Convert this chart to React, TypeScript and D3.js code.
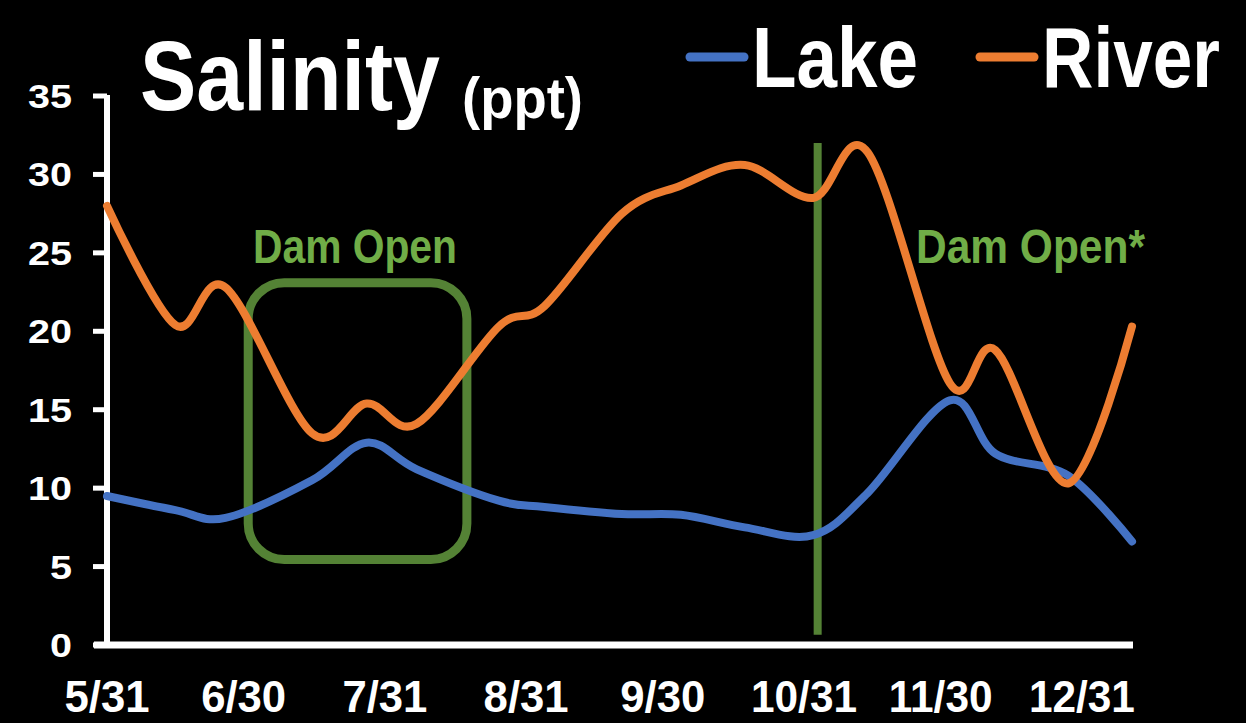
import React from "react";
import * as d3 from "d3";

const dates = [
  "2018-05-31", "2018-06-15", "2018-06-26", "2018-07-15", "2018-07-27", "2018-08-07",
  "2018-08-25", "2018-09-04", "2018-09-21", "2018-10-04", "2018-10-18", "2018-11-02",
  "2018-11-14", "2018-12-02", "2018-12-12", "2018-12-28", "2019-01-11",
];
const lake = [9.5, 8.6, 8.1, 10.5, 12.9, 11.2, 9.2, 8.8, 8.35, 8.3, 7.5, 7.0, 9.7, 15.6, 12.2, 10.8, 6.6];
const river = [28.0, 20.4, 22.8, 13.5, 15.4, 14.1, 20.3, 21.6, 27.5, 29.3, 30.6, 28.5, 31.4, 16.7, 18.8, 10.3, 20.3];
const xTickDates = ["2018-05-31", "2018-06-30", "2018-07-31", "2018-08-31", "2018-09-30", "2018-10-31", "2018-11-30", "2018-12-31"];
const xTickLabels = ["5/31", "6/30", "7/31", "8/31", "9/30", "10/31", "11/30", "12/31"];
const yTicks = [0, 5, 10, 15, 20, 25, 30, 35];
const seriesNames = ["Lake", "River"];
const seriesColors = ["#4472C4", "#ED7D31"];
const damBoxDates = ["2018-07-01", "2018-08-18"];
const damBoxValues = [23.1, 5.45];
const damLineDate = "2018-11-03";
const damLineValues = [32.0, 0.65];

const W = 1246;
const H = 723;
const parse = d3.timeParse("%Y-%m-%d");
const font = "'Liberation Sans', Arial, sans-serif";
const green = "#548235";
const greenText = "#70AD47";

// Arial/Liberation Sans Bold advance widths (em)
const CW: Record<string, number> = {
  S: 0.667, a: 0.556, l: 0.278, i: 0.278, n: 0.611, t: 0.333, y: 0.556, "(": 0.333, ")": 0.333,
  p: 0.611, L: 0.611, k: 0.556, e: 0.556, R: 0.722, v: 0.556, r: 0.389, D: 0.722, m: 0.889,
  " ": 0.278, O: 0.778, "*": 0.389, "/": 0.278,
};
const emWidth = (s: string) => s.split("").reduce((acc, c) => acc + (CW[c] ?? 0.556), 0);

function FitText(props: {
  x: number; y: number; text: string; width: number; size: number; fill: string;
  anchor?: "start" | "middle" | "end";
}) {
  const { x, y, text, width, size, fill, anchor = "start" } = props;
  const s = width / (emWidth(text) * size);
  return (
    <g transform={`translate(${x},${y}) scale(${s},1)`}>
      <text x={0} y={0} textAnchor={anchor} fill={fill} fontFamily={font} fontWeight="bold" fontSize={size}>
        {text}
      </text>
    </g>
  );
}

export default function App() {
  const dts = dates.map((d) => parse(d) as Date);
  const x = d3.scaleTime().domain([dts[0], dts[dts.length - 1]]).range([107, 1132]);
  const y = d3.scaleLinear().domain([0, 35]).range([645, 96]);
  const line = d3
    .line<[Date, number]>()
    .x((d) => x(d[0]))
    .y((d) => y(d[1]))
    .curve(d3.curveCardinal.tension(0));
  const series = [lake, river];

  const bx0 = x(parse(damBoxDates[0]) as Date);
  const bx1 = x(parse(damBoxDates[1]) as Date);
  const by0 = y(damBoxValues[0]);
  const by1 = y(damBoxValues[1]);
  const lx = x(parse(damLineDate) as Date);

  return (
    <svg
      width={W}
      height={H}
      style={{ position: "absolute", left: 0, top: 0, display: "block", background: "#000" }}
    >
      <rect x={0} y={0} width={W} height={H} fill="#000" />
      {/* axes */}
      <line x1={107} x2={107} y1={y(35) - 1} y2={y(0)} stroke="#fff" strokeWidth={6} />
      {yTicks.map((t) => (
        <g key={t}>
          <line x1={93} x2={107} y1={y(t)} y2={y(t)} stroke="#fff" strokeWidth={5} />
          <FitText x={72} y={y(t) + 12} text={String(t)} width={String(t).length * 22} size={34} fill="#fff" anchor="end" />
        </g>
      ))}
      <line x1={94} x2={1133} y1={y(0)} y2={y(0)} stroke="#fff" strokeWidth={7} />
      {xTickDates.map((d, i) => (
        <FitText
          key={d}
          x={x(parse(d) as Date)}
          y={712}
          text={xTickLabels[i]}
          width={xTickLabels[i].length === 4 ? 85 : 106}
          size={45}
          fill="#fff"
          anchor="middle"
        />
      ))}
      {/* annotations */}
      <rect
        x={bx0}
        y={by0}
        width={bx1 - bx0}
        height={by1 - by0}
        rx={36}
        ry={36}
        fill="none"
        stroke={green}
        strokeWidth={9}
      />
      <line x1={lx} x2={lx} y1={y(damLineValues[0])} y2={y(damLineValues[1])} stroke={green} strokeWidth={8} />
      <FitText x={253} y={263} text="Dam Open" width={204} size={48} fill={greenText} />
      <FitText x={916} y={263} text="Dam Open*" width={229} size={48} fill={greenText} />
      {/* series */}
      {series.map((vals, si) => (
        <path
          key={si}
          d={line(dts.map((d, i) => [d, vals[i]] as [Date, number])) || ""}
          fill="none"
          stroke={seriesColors[si]}
          strokeWidth={8}
          strokeLinecap="round"
          strokeLinejoin="round"
        />
      ))}
      {/* title */}
      <FitText x={140} y={110} text="Salinity" width={300} size={99} fill="#fff" />
      <FitText x={462} y={118} text="(ppt)" width={121} size={57} fill="#fff" />
      {/* legend */}
      {seriesNames.map((n, i) => {
        const lx0 = i === 0 ? 690 : 980;
        return (
          <g key={n}>
            <line x1={lx0} x2={lx0 + 54} y1={57} y2={57} stroke={seriesColors[i]} strokeWidth={9} strokeLinecap="round" />
            <FitText x={lx0 + 62} y={87} text={n} width={i === 0 ? 166 : 178} size={86} fill="#fff" />
          </g>
        );
      })}
    </svg>
  );
}
